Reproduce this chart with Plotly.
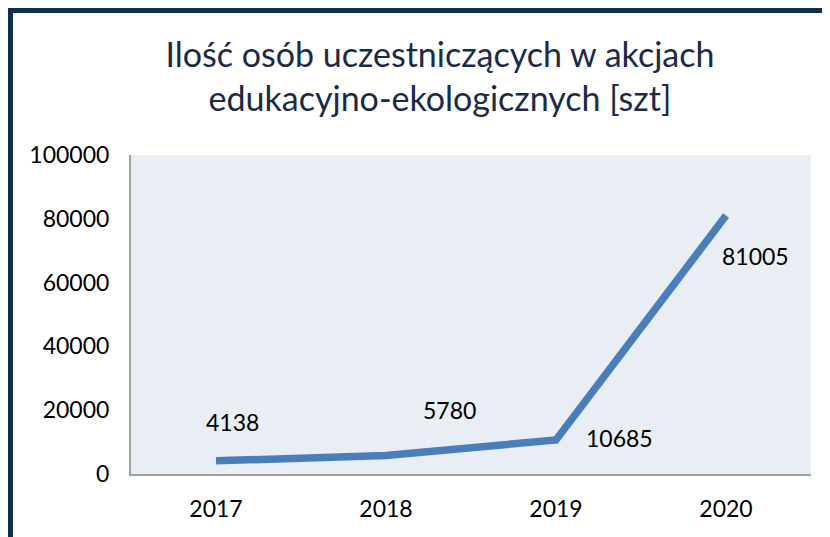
import plotly.graph_objects as go

years = ["2017", "2018", "2019", "2020"]
values = [4138, 5780, 10685, 81005]
label_text = ["4138", "5780", "10685", "81005"]
y_ticks = [0, 20000, 40000, 60000, 80000, 100000]

title_text = "Ilość osób uczestniczących w akcjach<br>edukacyjno-ekologicznych [szt]"

# label offsets (pixels) mimicking the original placement
label_dx = [16, 63, 63, 29]
label_dy = [39, 46, 2, -40]

FONT = "Lato, Liberation Sans, sans-serif"

fig = go.Figure()
fig.add_trace(go.Scatter(
    x=years, y=values, mode="lines",
    line=dict(color="#4a7ebb", width=7.5),
    hoverinfo="skip", showlegend=False,
))

for i, (yv, t, dx, dy) in enumerate(zip(values, label_text, label_dx, label_dy)):
    fig.add_annotation(x=i, y=yv, xref="x", yref="y", text=t, showarrow=False,
                       xshift=dx, yshift=dy,
                       font=dict(family=FONT, size=23, color="#000000"))

fig.add_shape(type="rect", xref="paper", yref="paper",
              x0=-0.1772, y0=-0.5, x1=1.2, y1=1.453,
              line=dict(color="#0e2d57", width=5), fillcolor="rgba(0,0,0,0)", layer="above")

fig.update_layout(
    width=822, height=529,
    margin=dict(l=123, r=19, t=147, b=63),
    paper_bgcolor="#ffffff",
    plot_bgcolor="#e9edf4",
    title=dict(text=title_text, x=0.5255, xanchor="center", y=0.888, yanchor="middle",
               font=dict(family=FONT, size=34, color="#1b2a47")),
    xaxis=dict(type="category", range=[-0.5, 3.5], showgrid=False, zeroline=False,
               showline=True, linecolor="#a0a0a0", linewidth=2,
               ticks="outside", ticklen=13, tickcolor="rgba(0,0,0,0)",
               tickfont=dict(family=FONT, size=23, color="#000000")),
    yaxis=dict(range=[0, 100000], tickvals=y_ticks, tickformat="d",
               showgrid=False, zeroline=False,
               showline=True, linecolor="#a0a0a0", linewidth=2,
               ticks="outside", ticklen=15, tickcolor="rgba(0,0,0,0)",
               tickfont=dict(family=FONT, size=23, color="#000000")),
)

fig.write_html("out.html")
